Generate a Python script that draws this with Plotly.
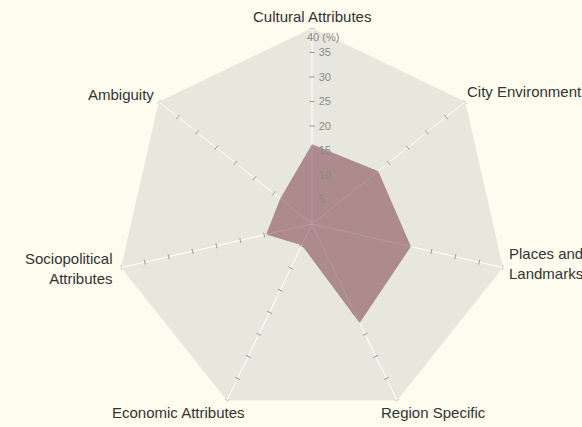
import math
import plotly.graph_objects as go

categories = ["Cultural Attributes", "City Environment", "Places and<br>Landmarks",
              "Region Specific", "Economic Attributes", "Sociopolitical<br>Attributes", "Ambiguity"]
values = [16.3, 17.3, 20.7, 22.4, 4.8, 9.6, 8.3]
radial_ticks = [5, 10, 15, 20, 25, 30, 35, 40]
radial_ticktext = ["5", "10", "15", "20", "25", "30", "35", ""]
top_label = "40 (%)"

n = len(categories)
angles = [i * 360.0 / n for i in range(n)]
rmax = 40

W, H = 582, 427
margin = dict(l=116, r=74, t=28, b=7)
px_radius = (W - margin["l"] - margin["r"]) / 2.0
px_per_unit = px_radius / rmax

fig = go.Figure()

# data polygon (category polar)
fig.add_trace(go.Scatterpolar(
    r=values + [values[0]], theta=categories + [categories[0]],
    mode="lines", fill="toself",
    fillcolor="rgba(113,46,60,0.5)",
    line=dict(width=0, color="rgba(113,46,60,0)"),
    hoverinfo="skip", showlegend=False, subplot="polar",
))

# small cross tick marks on every spoke (overlay polar with numeric angles)
half_len = 2.5
tr, tt = [], []
for a in angles:
    for rv in radial_ticks:
        d = math.degrees(math.atan(half_len / (rv * px_per_unit)))
        rr = rv / math.cos(math.radians(d))
        tr += [rr, rr, None]
        tt += [a - d, a + d, None]
fig.add_trace(go.Scatterpolar(
    r=tr, theta=tt, mode="lines",
    line=dict(color="#9a9a94", width=1),
    hoverinfo="skip", showlegend=False, connectgaps=False, subplot="polar2",
    cliponaxis=False,
))

font_family = "Liberation Sans, Arial, sans-serif"

# category labels placed at the polygon vertices (label placement style)
label_style = [
    dict(xanchor="center", xshift=0, yshift=12, align="center"),
    dict(xanchor="left", xshift=2, yshift=10, align="left"),
    dict(xanchor="left", xshift=6, yshift=4, align="left"),
    dict(xanchor="left", xshift=-16, yshift=-12, align="left"),
    dict(xanchor="right", xshift=18, yshift=-12, align="right"),
    dict(xanchor="right", xshift=-8, yshift=-1, align="right"),
    dict(xanchor="right", xshift=-5, yshift=7, align="right"),
]
annotations = []
for cat, a, st in zip(categories, angles, label_style):
    th = math.radians(90 - a)
    annotations.append(dict(
        text=cat, xref="paper", yref="paper",
        x=0.5 + 0.5 * math.cos(th), y=0.5 + 0.5 * math.sin(th),
        yanchor="middle", showarrow=False, borderpad=0, borderwidth=0,
        font=dict(size=15, color="#333333", family=font_family), **st,
    ))
annotations.append(dict(
    text=top_label, xref="paper", yref="paper", x=0.5, y=1.0,
    xanchor="left", yanchor="top", xshift=-6, yshift=-2, showarrow=False,
    borderpad=0, font=dict(size=11, color="#8a8a8a", family=font_family),
))

fig.update_layout(
    width=W, height=H,
    margin=margin,
    paper_bgcolor="#fefcef",
    font=dict(family=font_family, size=15, color="#333333"),
    showlegend=False,
    polar=dict(
        domain=dict(x=[0, 1], y=[0, 1]),
        bgcolor="#e8e7dd",
        gridshape="linear",
        radialaxis=dict(
            range=[0, rmax], angle=90, side="clockwise", tickangle=90,
            tickmode="array", tickvals=radial_ticks, ticktext=radial_ticktext,
            showline=False, showgrid=False,
            ticks="outside", ticklen=4, tickcolor="rgba(0,0,0,0)",
            tickfont=dict(size=11, color="#8a8a8a"),
        ),
        angularaxis=dict(
            type="category", categoryorder="array", categoryarray=categories,
            direction="clockwise", rotation=90,
            showline=False, ticks="", showticklabels=False,
            showgrid=True, gridcolor="#ffffff", gridwidth=1,
        ),
    ),
    polar2=dict(
        domain=dict(x=[0, 1], y=[0, 1]),
        bgcolor="rgba(0,0,0,0)",
        radialaxis=dict(range=[0, rmax], visible=False, showgrid=False),
        angularaxis=dict(direction="clockwise", rotation=90, visible=False,
                         showgrid=False, showline=False, ticks=""),
    ),
    annotations=annotations,
)

fig.write_html("out.html", config={"displayModeBar": False},
               post_script="document.body.style.margin='0';")
